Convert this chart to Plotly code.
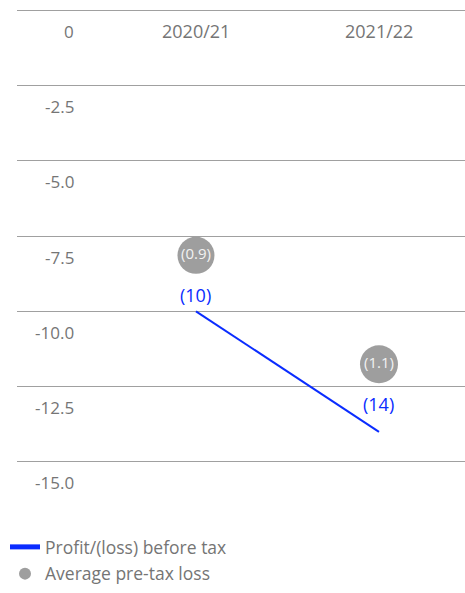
import plotly.graph_objects as go

categories = ["2020/21", "2021/22"]
profit_before_tax = [-10.0, -14.0]
profit_labels = ["(10)", "(14)"]
avg_pretax_loss = [-0.9, -1.1]
avg_labels = ["(0.9)", "(1.1)"]
y_ticks = [0, -2.5, -5.0, -7.5, -10.0, -12.5, -15.0]
y_tick_labels = ["0", "-2.5", "-5.0", "-7.5", "-10.0", "-12.5", "-15.0"]

FONT = "Open Sans"
GREY_TEXT = "#757575"
BLUE = "#0a2cff"
BUBBLE = "#9e9e9e"
GRID = "#a0a0a0"

W, H = 465, 593
ML = 17
PLOT_W = W - ML
PX_PER_UNIT = 30.15
Y_RANGE = [-15.3, 0.3]
MT = 10 - Y_RANGE[1] * PX_PER_UNIT
PLOT_H = (Y_RANGE[1] - Y_RANGE[0]) * PX_PER_UNIT
MB = H - MT - PLOT_H

# hidden secondary scale for the average-loss bubbles
Y2_PX_PER_UNIT = 545.0
Y2_OFFSET = -235.0
Y2_RANGE = [-(MT + PLOT_H - Y2_OFFSET) / Y2_PX_PER_UNIT,
            -(MT - Y2_OFFSET) / Y2_PX_PER_UNIT]

fig = go.Figure()

fig.add_trace(go.Scatter(
    x=categories, y=profit_before_tax, mode="lines",
    line=dict(color=BLUE, width=2),
    name="Profit/(loss) before tax", legendgroup="a",
))

fig.add_trace(go.Scatter(
    x=categories, y=avg_pretax_loss, mode="markers+text",
    marker=dict(color=BUBBLE, size=[37, 38], opacity=1, line=dict(width=0)),
    text=avg_labels, textposition="middle center",
    textfont=dict(family=FONT, size=15, color="#f2f2f2"),
    name="Average pre-tax loss", yaxis="y2", legendgroup="b",
))

annotations = []
for v, t in zip(y_ticks, y_tick_labels):
    annotations.append(dict(
        x=(76 - ML) / PLOT_W, xref="paper", xanchor="right", y=v, yref="y",
        yanchor="middle", yshift=-21, text=t, showarrow=False,
        font=dict(family=FONT, size=17, color=GREY_TEXT),
    ))
for c in categories:
    annotations.append(dict(
        x=c, xref="x", xanchor="center", y=0, yref="y",
        yanchor="middle", yshift=-21, text=c, showarrow=False,
        font=dict(family=FONT, size=18, color=GREY_TEXT),
    ))
for c, v, t in zip(categories, avg_pretax_loss, profit_labels):
    annotations.append(dict(
        x=c, xref="x", xanchor="center", y=v, yref="y2",
        yanchor="middle", yshift=-40, text=t, showarrow=False,
        font=dict(family=FONT, size=18, color=BLUE),
    ))

fig.update_layout(
    width=W, height=H,
    margin=dict(l=ML, r=0, t=MT, b=MB, pad=0, autoexpand=False),
    paper_bgcolor="white", plot_bgcolor="white",
    font=dict(family=FONT, color=GREY_TEXT, size=18),
    xaxis=dict(type="category", range=[-0.978, 1.47], showgrid=False,
               showticklabels=False, zeroline=False, showline=False, ticks=""),
    yaxis=dict(range=Y_RANGE, tickvals=y_ticks, showticklabels=False,
               showgrid=True, gridcolor=GRID, gridwidth=1.3,
               zeroline=True, zerolinecolor=GRID, zerolinewidth=1.3,
               showline=False, ticks=""),
    yaxis2=dict(range=Y2_RANGE, overlaying="y", visible=False),
    showlegend=True,
    legend=dict(x=5 / W, xref="container", xanchor="left",
                y=(H - 529) / H, yref="container", yanchor="top",
                font=dict(family=FONT, size=17.5, color=GREY_TEXT),
                itemsizing="constant", tracegroupgap=1,
                traceorder="grouped", bgcolor="rgba(0,0,0,0)"),
    annotations=annotations,
)

fig.write_html("out.html", config={"displayModeBar": False},
               post_script="document.body.style.margin='0';")
